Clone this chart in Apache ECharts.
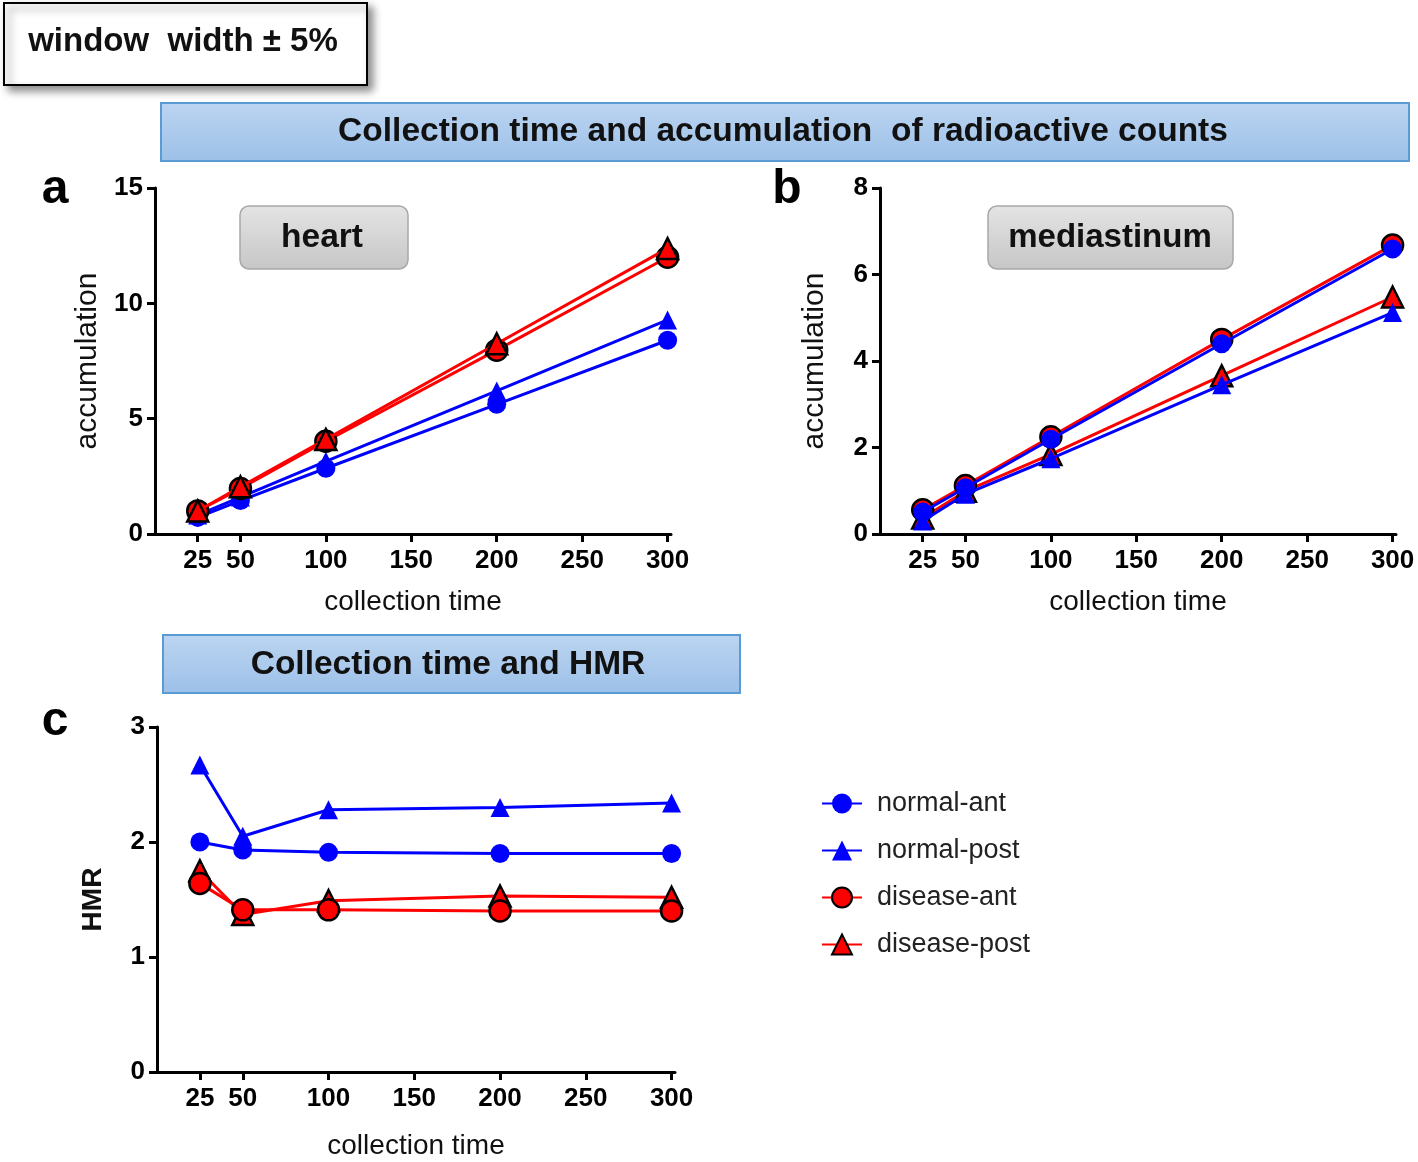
<!DOCTYPE html>
<html>
<head>
<meta charset="utf-8">
<script src="https://cdn.jsdelivr.net/npm/echarts@6/dist/echarts.min.js"></script>
<style>
html,body{margin:0;padding:0;background:#fff;}
#chart{width:1418px;height:1162px;}
</style>
</head>
<body>
<div id="chart"></div>
<script>
// ---- data ----
const collectionTimes = [25, 50, 100, 200, 300];
const xTickValues = [25, 50, 100, 150, 200, 250, 300];
const seriesNames = ['normal-ant', 'normal-post', 'disease-ant', 'disease-post'];

const heartNormalAnt   = [0.72, 1.45, 2.85, 5.62, 8.4];
const heartNormalPost  = [0.82, 1.6, 3.15, 6.2, 9.28];
const heartDiseaseAnt  = [1.0, 1.97, 4.02, 7.97, 12.0];
const heartDiseasePost = [1.0, 2.05, 4.1, 8.25, 12.38];

const mediNormalAnt    = [0.51, 1.07, 2.19, 4.4, 6.59];
const mediNormalPost   = [0.3, 0.92, 1.74, 3.45, 5.12];
const mediDiseaseAnt   = [0.56, 1.12, 2.25, 4.5, 6.68];
const mediDiseasePost  = [0.37, 0.99, 1.84, 3.66, 5.48];

const hmrNormalAnt     = [2.0, 1.93, 1.91, 1.9, 1.9];
const hmrNormalPost    = [2.67, 2.05, 2.28, 2.3, 2.34];
const hmrDiseaseAnt    = [1.64, 1.41, 1.41, 1.4, 1.4];
const hmrDiseasePost   = [1.75, 1.37, 1.49, 1.53, 1.52];

// ---- styling helpers ----
const FF = '"Liberation Sans", Arial, sans-serif';
const BLUE = '#0000ff', RED = '#ff0000';

function pts(arr){ return collectionTimes.map((x,i)=>[x, arr[i]]); }

const styles = {
  'normal-ant':  {symbol:'circle',   color:BLUE, border:null, size:19},
  'normal-post': {symbol:'triangle', color:BLUE, border:null, size:19},
  'disease-ant': {symbol:'circle',   color:RED,  border:'#000', size:21},
  'disease-post':{symbol:'triangle', color:RED,  border:'#000', size:21}
};

function mkSeries(name, arr, gi, z){
  const s = styles[name];
  return {
    type:'line', name, xAxisIndex:gi, yAxisIndex:gi, z: z,
    data: pts(arr), symbol: s.symbol, symbolSize: s.size,
    showAllSymbol: true,
    lineStyle:{color:s.color, width:3},
    itemStyle:{color:s.color, borderColor: s.border || s.color, borderWidth: s.border ? 2.5 : 0},
    emphasis:{disabled:true}, animation:false
  };
}

function mkX(gi, nameGap){
  return {
    type:'value', gridIndex:gi, min:0, max:302,
    name:'collection time', nameLocation:'middle', nameGap,
    nameTextStyle:{fontSize:28, fontFamily:FF, color:'#111'},
    axisLine:{show:true, onZero:false, lineStyle:{color:'#000', width:3}},
    axisTick:{show:true, length:8, customValues:xTickValues, lineStyle:{color:'#000', width:3}},
    axisLabel:{customValues:xTickValues, fontSize:26, fontWeight:'bold', fontFamily:FF, color:'#000', margin:14},
    splitLine:{show:false}
  };
}
function mkY(gi, max, interval, name, nameGap, bold, size){
  return {
    type:'value', gridIndex:gi, min:0, max, interval,
    name, nameLocation:'middle', nameGap,
    nameTextStyle:{fontSize:size, fontFamily:FF, color:'#111', fontWeight: bold ? 'bold' : 'normal'},
    axisLine:{show:true, onZero:false, lineStyle:{color:'#000', width:3}},
    axisTick:{show:true, length:8, lineStyle:{color:'#000', width:3}},
    axisLabel:{fontSize:26, fontWeight:'bold', fontFamily:FF, color:'#000', margin:12},
    splitLine:{show:false}
  };
}

const blueGrad = {type:'linear', x:0, y:0, x2:0, y2:1, colorStops:[{offset:0, color:'#bcd5f1'},{offset:1, color:'#9cc0e8'}]};
const grayGrad = {type:'linear', x:0, y:0, x2:0, y2:1, colorStops:[{offset:0, color:'#e4e4e4'},{offset:1, color:'#c6c6c6'}]};

function txt(text, x, y, size, weight, color){
  return {type:'text', x, y, z:100, style:{text, font: weight + ' ' + size + 'px ' + FF, fill: color || '#000', align:'center', verticalAlign:'middle', textAlign:'center', textVerticalAlign:'middle'}};
}

const graphics = [
  {type:'rect', z:90, shape:{x:4, y:3, width:363, height:82}, style:{fill:'#fff', stroke:'#000', lineWidth:2, shadowBlur:8, shadowOffsetX:5, shadowOffsetY:5, shadowColor:'rgba(0,0,0,0.45)'}},
  txt('window  width ± 5%', 183, 42, 33, 'bold', '#111'),
  {type:'rect', z:90, shape:{x:161, y:103, width:1248, height:58}, style:{fill:blueGrad, stroke:'#5b9bd5', lineWidth:2}},
  txt('Collection time and accumulation  of radioactive counts', 783, 132, 33.5, 'bold', '#111'),
  {type:'rect', z:90, shape:{x:163, y:635, width:577, height:58}, style:{fill:blueGrad, stroke:'#5b9bd5', lineWidth:2}},
  txt('Collection time and HMR', 448, 665, 33.5, 'bold', '#111'),
  {type:'rect', z:90, shape:{x:240, y:206, width:168, height:63, r:9}, style:{fill:grayGrad, stroke:'#a8a8a8', lineWidth:1.5}},
  txt('heart', 322, 238, 33.5, 'bold', '#111'),
  {type:'rect', z:90, shape:{x:988, y:206, width:245, height:63, r:9}, style:{fill:grayGrad, stroke:'#a8a8a8', lineWidth:1.5}},
  txt('mediastinum', 1110, 238, 33, 'bold', '#111'),
  txt('a', 55, 190, 48, 'bold'),
  txt('b', 787, 190, 48, 'bold'),
  txt('c', 55, 722, 48, 'bold')
];

const option = {
  backgroundColor:'#fff',
  animation:false,
  textStyle:{fontFamily:FF},
  grid:[
    {left:155, top:188, width:516, height:346},
    {left:880, top:188, width:516, height:346},
    {left:157, top:727, width:518, height:345}
  ],
  xAxis:[mkX(0, 54), mkX(1, 54), mkX(2, 60)],
  yAxis:[
    mkY(0, 15, 5, 'accumulation', 52, false, 30),
    mkY(1, 8, 2, 'accumulation', 50, false, 30),
    mkY(2, 3, 1, 'HMR', 50, true, 28)
  ],
  legend:{
    orient:'vertical', left:816, top:785,
    itemWidth:40, itemHeight:25, itemGap:20,
    data: seriesNames,
    textStyle:{fontSize:27, fontFamily:FF, color:'#222', padding:[0,0,0,10]},
    selectedMode:false
  },
  graphic: graphics,
  series:[
    mkSeries('normal-ant', heartNormalAnt, 0, 2),
    mkSeries('normal-post', heartNormalPost, 0, 2),
    mkSeries('disease-ant', heartDiseaseAnt, 0, 3),
    mkSeries('disease-post', heartDiseasePost, 0, 4),

    mkSeries('disease-ant', mediDiseaseAnt, 1, 2),
    mkSeries('disease-post', mediDiseasePost, 1, 2),
    mkSeries('normal-ant', mediNormalAnt, 1, 3),
    mkSeries('normal-post', mediNormalPost, 1, 3),

    mkSeries('normal-ant', hmrNormalAnt, 2, 2),
    mkSeries('normal-post', hmrNormalPost, 2, 2),
    mkSeries('disease-post', hmrDiseasePost, 2, 3),
    mkSeries('disease-ant', hmrDiseaseAnt, 2, 4)
  ]
};

const chart = echarts.init(document.getElementById('chart'), null, {renderer:'canvas'});
chart.setOption(option);
</script>
</body>
</html>
